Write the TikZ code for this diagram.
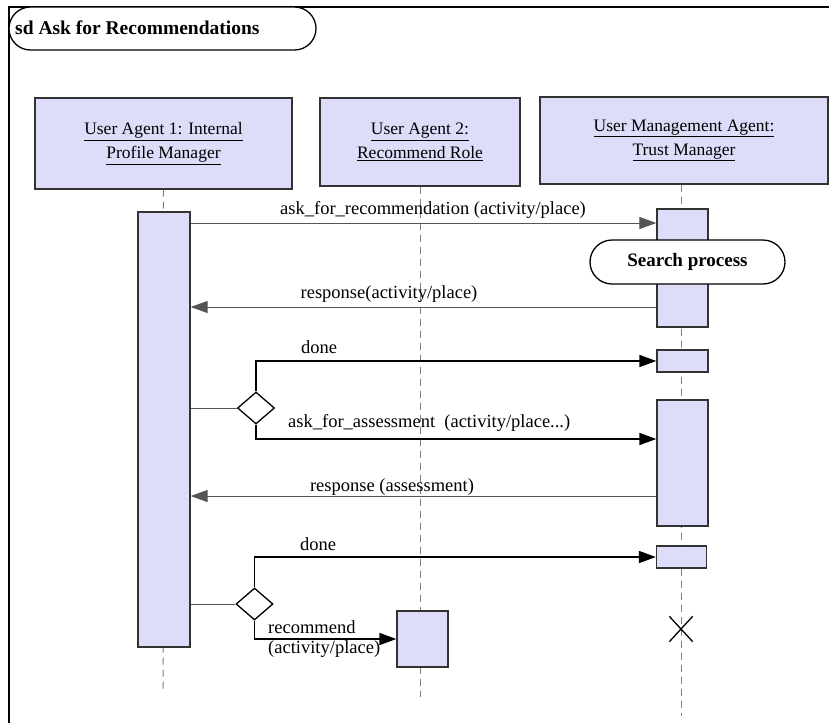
\documentclass[tikz,border=0pt]{standalone}
\usepackage{fontspec}
\setmainfont{Liberation Serif}
\usetikzlibrary{arrows.meta,shapes.geometric,shapes.misc}
\definecolor{agentFill}{RGB}{221,221,250}
\definecolor{lineGray}{RGB}{85,85,85}

\begin{document}
\begin{tikzpicture}
[x=1pt,y=-1pt,
  headBox/.style={shape=rectangle,draw=black!80,line width=1.3pt,fill=agentFill,align=center,inner sep=0pt,font=\fontsize{17.5}{24}\selectfont},%
  actBox/.style={shape=rectangle,draw=black!80,line width=1.3pt,fill=agentFill,inner sep=0pt},%
  lifeLine/.style={draw=gray,line width=1pt,dash pattern=on 7pt off 5pt},%
  callArrow/.style={-{Triangle[length=17pt,width=12pt]},draw=lineGray,line width=1pt},%
  doneArrow/.style={-{Triangle[length=17pt,width=12pt]},draw=black,line width=1.6pt},%
  replyArrow/.style={-{Triangle[length=17pt,width=12pt]},draw=lineGray,line width=1pt},%
  choiceDiamond/.style={shape=diamond,draw,line width=1.3pt,fill=white,inner sep=0pt,minimum width=37pt,minimum height=32pt},%
  msgLabel/.style={font=\fontsize{18.5}{20}\selectfont,inner sep=0pt},%
  pill/.style={shape=rounded rectangle,draw,line width=1.3pt,fill=white,inner sep=0pt}]
\useasboundingbox (0,0) rectangle (829,723);
%% frame and title
\draw[line width=2.5pt] (9,723) -- (9,7) -- (829,7);
\node (title) [pill,minimum width=307pt,minimum height=43pt] at (162.5,28.5) {};
\node [anchor=west,font=\fontsize{19.5}{22}\selectfont\bfseries,inner sep=0pt] at (15,28) {sd Ask for Recommendations};
%% lifeline heads
\node (ua1) [headBox,minimum width=257pt,minimum height=91pt] at (163.5,143.5)
  {\underline{User Agent 1: Internal}\\\underline{Profile Manager}};
\node (ua2) [headBox,minimum width=200pt,minimum height=88pt] at (420,142)
  {\underline{User Agent 2:}\\\underline{Recommend Role}};
\node (tm) [headBox,minimum width=288pt,minimum height=87pt] at (684,140.5)
  {\underline{User Management Agent:}\\\underline{Trust Manager}};
%% lifelines
\coordinate (ua1end) at (163,690);
\coordinate (ua2end) at (420,697);
\coordinate (tmend) at (681,716);
\draw[lifeLine] (ua1.south) -- (ua1end);
\draw[lifeLine] (ua2.south) -- (ua2end);
\draw[lifeLine] (tmend |- tm.south) -- (tmend);
%% activations
\foreach \boxname/\x/\y/\w/\h in {a1/164/429.5/52/435, t1/682.5/268/51/118, t2/682.5/361/51/22,
  t3/682.5/463/51/126, t4/681.5/557/50/22, r1/422.5/639/51/56}
{
  \node (\boxname) [actBox,minimum width=\w pt,minimum height=\h pt] at (\x,\y) {};
}
\node (search) [pill,minimum width=195pt,minimum height=44pt,font=\fontsize{19}{21}\selectfont\bfseries] at (687.5,262) {Search process};
%% decisions and end
\node (d1) [choiceDiamond] at (256,408) {};
\node (d2) [choiceDiamond] at (254.5,604) {};
\node (kill) [shape=cross out,draw,line width=1.3pt,minimum width=22pt,minimum height=24pt,inner sep=0pt] at (681,629) {};
%% message levels
\coordinate (m1) at (0,223);
\coordinate (m2) at (0,307);
\coordinate (m3) at (0,439);
\coordinate (m4) at (0,496);
\coordinate (m5) at (0,639);
%% messages
\draw[callArrow] (a1.east |- m1) -- (t1.west |- m1);
\draw[replyArrow] (t1.west |- m2) -- (a1.east |- m2);
\draw[line width=1pt,draw=lineGray] (a1.east |- d1) -- (d1.west);
\draw[doneArrow] (d1.north) |- (t2.west);
\draw[doneArrow] (d1.south) |- (t3.west |- m3);
\draw[replyArrow] (t3.west |- m4) -- (a1.east |- m4);
\draw[line width=1pt,draw=lineGray] (a1.east |- d2) -- (d2.west);
\draw[doneArrow] (d2.north) |- (t4.west);
\draw[doneArrow] (d2.south) |- (r1.west |- m5);
%% labels
\node[msgLabel] at (433,210) {ask\_for\_recommendation (activity/place)};
\node[msgLabel] at (389,294) {response(activity/place)};
\node[msgLabel] at (319,347) {done};
\node[msgLabel,anchor=west] at (288,423) {ask\_for\_assessment\ \ (activity/place...)};
\node[msgLabel] at (392,487) {response (assessment)};
\node[msgLabel] at (318,544) {done};
\node[msgLabel,anchor=west] at (268,627) {recommend};
\node[msgLabel,anchor=west] at (268,649) {(activity/place)};
\end{tikzpicture}
\end{document}
